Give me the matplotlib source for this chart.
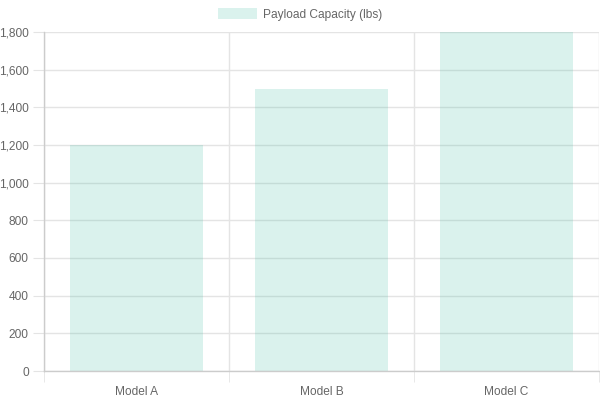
import matplotlib
matplotlib.use('Agg')
import matplotlib.pyplot as plt
from matplotlib.ticker import FuncFormatter, FixedLocator
import numpy as np

plt.rcParams['font.family'] = ['Liberation Sans', 'DejaVu Sans']

models = ['Model A', 'Model B', 'Model C']
payload = [1200, 1500, 1800]
series_label = 'Payload Capacity (lbs)'

GRID = '#e4e4e4'
TEXT = '#666666'

fig = plt.figure(figsize=(6, 4), dpi=100)
ax = fig.add_axes([44 / 600, 29 / 400, 555 / 600, 339 / 400])

x = np.arange(len(models))
ax.bar(x, payload, width=0.72, color=(72 / 255, 190 / 255, 165 / 255, 0.2),
       linewidth=0, zorder=2, label=series_label)

ax.set_xlim(-0.5, len(models) - 0.5)
ax.set_ylim(0, 1800)
ax.set_yticks(np.arange(0, 1801, 200))
ax.yaxis.set_major_formatter(FuncFormatter(lambda v, p: f'{int(v):,}'))

ax.set_xticks(x)
ax.set_xticklabels(models)
ax.xaxis.set_minor_locator(FixedLocator(np.arange(-0.5, len(models), 1.0)))

ax.grid(True, axis='y', color=GRID, linewidth=1, zorder=1)
ax.grid(True, axis='x', which='minor', color=GRID, linewidth=1, zorder=1)
ax.set_axisbelow(True)

ax.tick_params(axis='y', length=8, color=GRID, labelcolor=TEXT, labelsize=8.6, pad=3)
ax.tick_params(axis='x', which='major', length=0, labelcolor=TEXT, labelsize=8.6, pad=11)
ax.tick_params(axis='x', which='minor', length=8, color=GRID)

for side in ['top', 'right']:
    ax.spines[side].set_visible(False)
for side in ['left', 'bottom']:
    ax.spines[side].set_color('#cccccc')
    ax.spines[side].set_linewidth(1)

fig.legend(handles=ax.patches[:1], labels=[series_label], loc='upper center',
           bbox_to_anchor=(0.5, 1.0), frameon=False, fontsize=8.6,
           labelcolor=TEXT, handlelength=3.3, handleheight=1.0, handletextpad=0.5,
           borderaxespad=0.3)

fig.savefig('out.png', dpi=100)
